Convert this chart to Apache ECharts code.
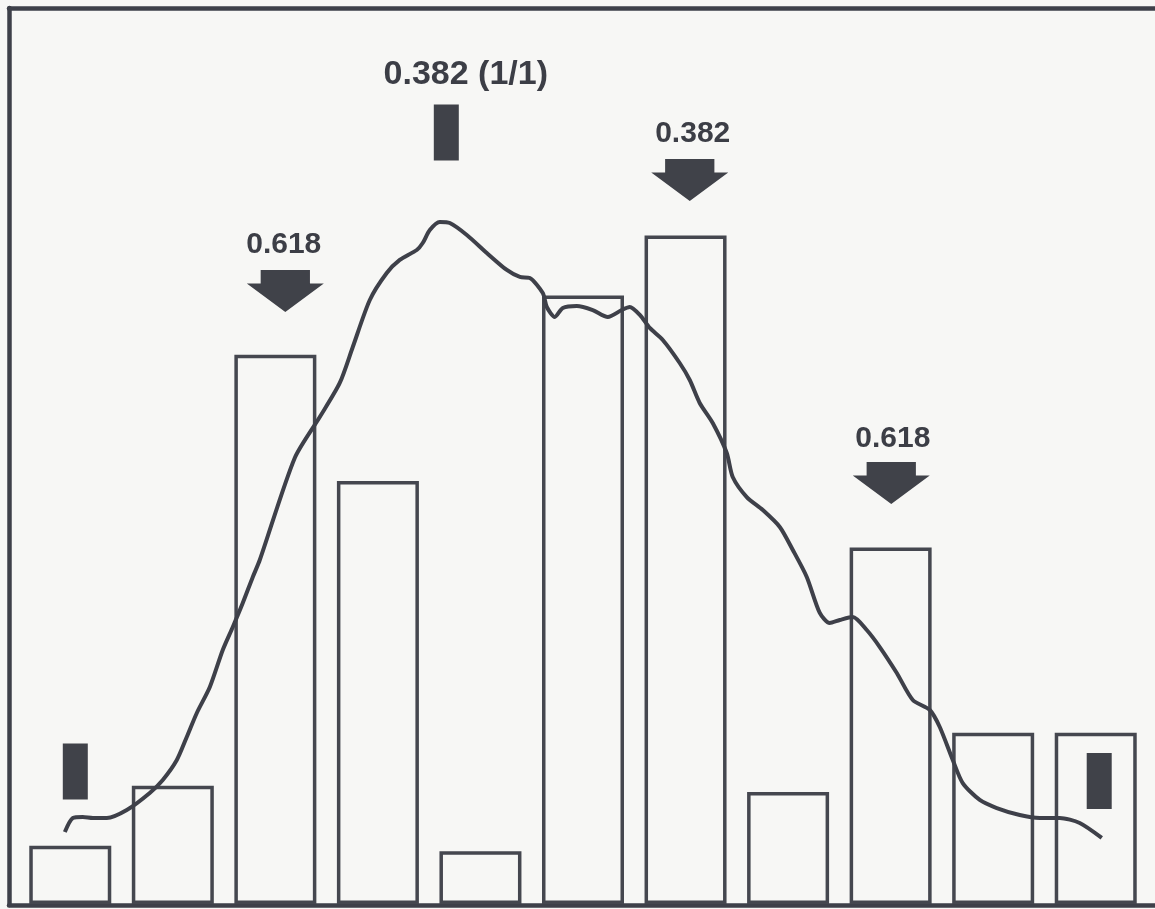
<!DOCTYPE html>
<html>
<head>
<meta charset="utf-8">
<script src="https://cdn.jsdelivr.net/npm/echarts@6/dist/echarts.min.js"></script>
<style>
html,body{margin:0;padding:0;background:#f7f7f5;}
#chart{width:1155px;height:909px;}
</style>
</head>
<body>
<div id="chart"></div>
<script>
// Bar categories (no printed labels in the original)
var categories = ['1','2','3','4','5','6','7','8','9','10','11'];
// Bar heights (0-100 = bottom to top of frame)
var barValues = [6.5, 13.2, 61.3, 47.2, 5.9, 67.9, 74.6, 12.5, 39.8, 19.1, 19.1];
// Curve: x in bar-slot units (0..11), y in same scale as bars
var curveX = [0.447,0.525,0.622,0.720,0.856,1.051,1.275,1.402,1.539,1.636,1.734,1.861,1.987,2.085,2.182,2.280,2.348,2.689,2.933,3.128,3.255,3.421,3.586,3.713,3.879,3.937,4.006,4.103,4.201,4.367,4.562,4.757,4.884,4.981,5.108,5.147,5.225,5.303,5.439,5.595,5.742,5.878,5.956,6.054,6.151,6.278,6.443,6.541,6.638,6.765,6.902,6.960,7.097,7.253,7.419,7.546,7.682,7.809,7.906,8.004,8.131,8.267,8.394,8.560,8.716,8.882,8.979,9.106,9.203,9.369,9.535,9.759,9.954,10.149,10.344,10.559];
var curveY = [8.04,9.6,9.71,9.6,9.6,10.49,12.39,13.84,16.07,18.64,21.32,24.22,28.35,30.92,33.59,36.50,38.39,49.78,54.35,58.15,62.17,67.41,70.42,71.88,72.99,73.77,75.22,76.12,76.00,74.67,72.66,70.76,69.98,69.87,68.19,66.63,65.51,66.52,66.74,66.29,65.51,66.29,66.63,65.74,64.29,62.95,60.38,58.48,55.92,53.68,50.33,47.66,45.42,43.97,42.08,39.51,36.50,32.48,31.36,31.70,32.03,30.58,28.68,25.78,22.77,21.65,19.75,16.07,13.50,11.61,10.71,9.93,9.60,9.60,9.04,7.37];
// Solid block markers
var markerX = [0.549, 4.167, 10.534];
var markerY = [14.79, 86.11, 13.73];
// Down arrows
var arrowX = [2.597, 6.541, 8.506];
var arrowY = [68.42, 80.80, 46.99];
// Ratio labels
var labelText = ['0.618', '0.382', '0.618', '0.382 (1/1)'];
var labelX = [2.582, 6.570, 8.521, 4.357];
var labelY = [73.55, 85.94, 51.90, 92.52];
var labelSize = [30, 30, 30, 34];

var ink = '#3e4049';
var curveData = curveX.map(function(x, i){ return [x, curveY[i]]; });
var markerData = markerX.map(function(x, i){ return [x, markerY[i]]; });
var arrowData = arrowX.map(function(x, i){ return [x, arrowY[i]]; });
var labelData = labelX.map(function(x, i){
  return {
    value: [x, labelY[i]],
    label: { formatter: labelText[i], fontSize: labelSize[i] }
  };
});

var frameLine = { show: true, onZero: false, lineStyle: { color: ink, width: 4.5 } };
var chart = echarts.init(document.getElementById('chart'));
chart.setOption({
  backgroundColor: '#f7f7f5',
  animation: false,
  grid: [
    { left: 9, top: 8, right: 0, bottom: 4 },
    { left: 19, top: 8, right: 8, bottom: 5 }
  ],
  xAxis: [
    { gridIndex: 0, type: 'value', position: 'bottom', axisLine: frameLine, axisTick: { show: false }, axisLabel: { show: false }, splitLine: { show: false } },
    { gridIndex: 0, type: 'value', position: 'top', axisLine: frameLine, axisTick: { show: false }, axisLabel: { show: false }, splitLine: { show: false } },
    { gridIndex: 1, type: 'category', data: categories, show: false },
    { gridIndex: 1, type: 'value', min: 0, max: 11, show: false }
  ],
  yAxis: [
    { gridIndex: 0, type: 'value', position: 'left', axisLine: frameLine, axisTick: { show: false }, axisLabel: { show: false }, splitLine: { show: false } },
    { gridIndex: 1, type: 'value', min: 0, max: 100, show: false, splitLine: { show: false } }
  ],
  series: [
    {
      type: 'bar', xAxisIndex: 2, yAxisIndex: 1,
      data: barValues, barWidth: 82,
      itemStyle: { color: '#f7f7f5', borderColor: '#45474f', borderWidth: 3.5 },
      z: 2
    },
    {
      type: 'line', xAxisIndex: 3, yAxisIndex: 1,
      data: curveData, smooth: 0.25, showSymbol: false,
      lineStyle: { color: ink, width: 4 },
      z: 3
    },
    {
      type: 'scatter', xAxisIndex: 3, yAxisIndex: 1,
      data: markerData, symbol: 'rect', symbolSize: [25, 56],
      itemStyle: { color: '#404249', opacity: 1 },
      z: 4
    },
    {
      type: 'scatter', xAxisIndex: 3, yAxisIndex: 1,
      data: arrowData,
      symbol: 'path://M18,0 L82,0 L82,32 L100,32 L50,100 L0,32 L18,32 Z',
      symbolKeepAspect: false, symbolSize: [77, 42],
      itemStyle: { color: '#404249', opacity: 1 },
      z: 4
    },
    {
      type: 'scatter', xAxisIndex: 3, yAxisIndex: 1,
      data: labelData, symbolSize: 1,
      itemStyle: { color: 'rgba(0,0,0,0)' },
      label: {
        show: true, position: 'inside', color: '#3c3e46', opacity: 1,
        textBorderWidth: 0,
        fontFamily: 'Liberation Sans, Arial, sans-serif', fontWeight: 'bold'
      },
      z: 5
    }
  ]
});
</script>
</body>
</html>
